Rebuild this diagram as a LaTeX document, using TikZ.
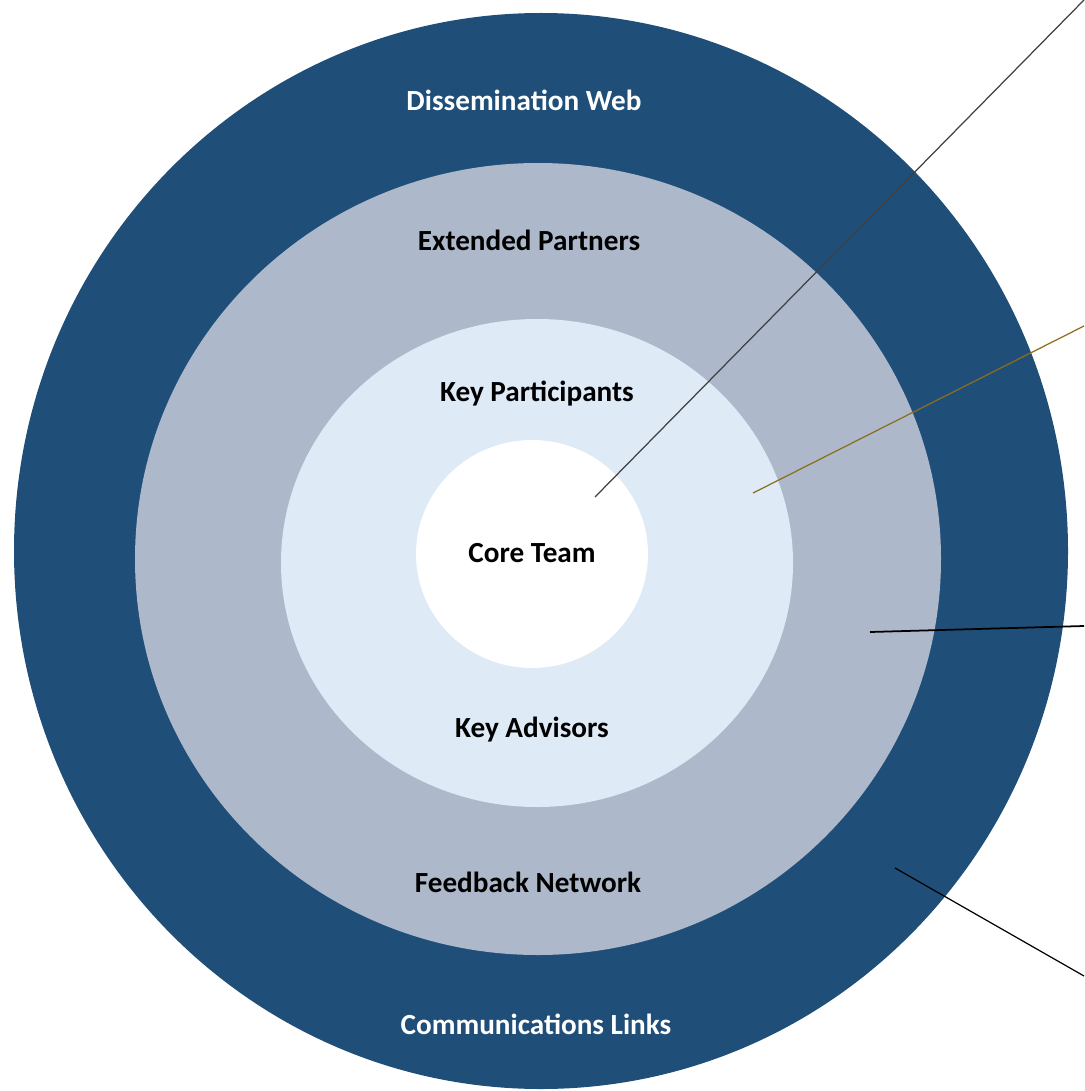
\documentclass[tikz,border=0pt]{standalone}
\usepackage{fontspec}
\setmainfont{Carlito}
\definecolor{webblue}{HTML}{1F4E79}
\definecolor{partnergray}{HTML}{ADB9CA}
\definecolor{participantblue}{HTML}{DEEAF6}
\definecolor{leadergold}{HTML}{8C6D1F}
\tikzset{
	ringlabel/.style={font=\bfseries\fontsize{8.3}{9}\selectfont, inner sep=0pt},
	leader/.style={line width=0.35pt},
}
\begin{document}
\begin{tikzpicture}[x=0.01cm, y=-0.01cm]
\useasboundingbox (0,0) rectangle (1084,1091);
% rings, from the outside in
\foreach \cx/\cy/\rx/\ry/\c in {541/551/527/538/webblue, 538/559/403/396/partnergray, 537/563/256/244/participantblue, 532/554/116/114/white}{
	\fill [\c] (\cx,\cy) ellipse [x radius=\rx, y radius=\ry];
};
\node [ringlabel, text=white] (web) at (524,100) {Dissemination Web};
\node [ringlabel] (partners) at (529,240) {Extended Partners};
\node [ringlabel] (participants) at (537,394) {Key Participants};
\node [ringlabel] (core) at (532,553) {Core Team};
\node [ringlabel] (advisors) at (532,730) {Key Advisors};
\node [ringlabel] (feedback) at (528,882) {Feedback Network};
\node [ringlabel, text=white] (links) at (536,1024) {Communications Links};
% leaders out to the right
\coordinate (a1) at (595,497);
\coordinate (a2) at (1084,0);
\coordinate (b1) at (753,493);
\coordinate (b2) at (1084,326);
\coordinate (c1) at (870,632);
\coordinate (c2) at (1084,626);
\coordinate (d1) at (895,868);
\coordinate (d2) at (1084,976);
\draw [leader, black!75] (a1) -- (a2);
\draw [leader, leadergold] (b1) -- (b2);
\draw [leader, line width=0.5pt] (c1) -- (c2);
\draw [leader] (d1) -- (d2);
\end{tikzpicture}
\end{document}
